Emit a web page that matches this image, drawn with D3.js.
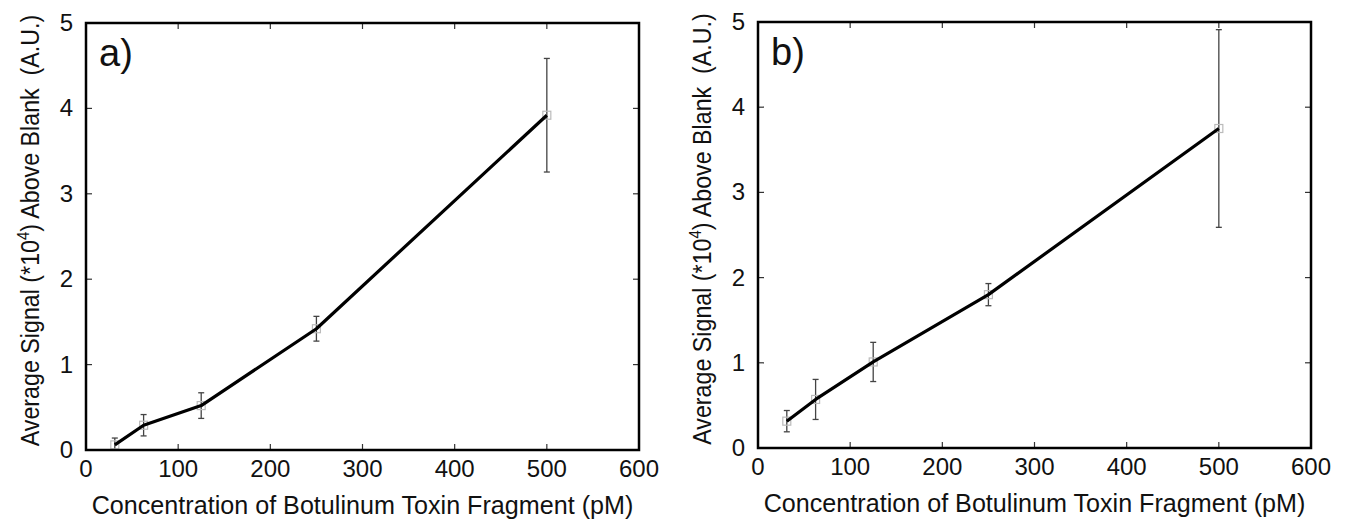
<!DOCTYPE html>
<html>
<head>
<meta charset="utf-8">
<script src="https://cdn.jsdelivr.net/npm/d3@7"></script>
<style>
body{margin:0;background:#fff}
svg{display:block}
text{font-family:"Liberation Sans",Arial,sans-serif;fill:#111;white-space:pre}
</style>
</head>
<body>
<svg id="chart" width="1350" height="525"></svg>
<script>
// concentrations (pM)
let conc=[31.25,62.5,125,250,500];
// panel a
let sigA=[0.06,0.29,0.52,1.42,3.92];
let errA=[0.08,0.125,0.15,0.145,0.665];
// panel b
let sigB=[0.315,0.57,1.01,1.80,3.75];
let errB=[0.125,0.235,0.23,0.13,1.16];

let xTicks=[0,100,200,300,400,500,600];
let yTicks=[0,1,2,3,4,5];
let xTitle="Concentration of Botulinum Toxin Fragment (pM)";

let svg=d3.select("#chart");

function drawPanel(box,sig,err,tag){
  let g=svg.append("g");
  let x=d3.scaleLinear().domain([0,600]).range([box.l,box.r]);
  let y=d3.scaleLinear().domain([0,5]).range([box.b,box.t]);

  let clipId="clip_"+tag;
  g.append("clipPath").attr("id",clipId).append("rect")
    .attr("x",box.l).attr("y",box.t).attr("width",box.r-box.l).attr("height",box.b-box.t);

  // inward ticks on all four sides
  let tk=6;
  g.selectAll(".xtb").data(xTicks.slice(1,-1)).enter().append("line")
    .attr("x1",d=>x(d)).attr("x2",d=>x(d)).attr("y1",box.b).attr("y2",box.b-tk)
    .attr("stroke","#333").attr("stroke-width",1.2);
  g.selectAll(".xtt").data(xTicks.slice(1,-1)).enter().append("line")
    .attr("x1",d=>x(d)).attr("x2",d=>x(d)).attr("y1",box.t).attr("y2",box.t+tk)
    .attr("stroke","#333").attr("stroke-width",1.2);
  g.selectAll(".ytl").data(yTicks.slice(1,-1)).enter().append("line")
    .attr("y1",d=>y(d)).attr("y2",d=>y(d)).attr("x1",box.l).attr("x2",box.l+tk)
    .attr("stroke","#333").attr("stroke-width",1.2);
  g.selectAll(".ytr").data(yTicks.slice(1,-1)).enter().append("line")
    .attr("y1",d=>y(d)).attr("y2",d=>y(d)).attr("x1",box.r).attr("x2",box.r-tk)
    .attr("stroke","#333").attr("stroke-width",1.2);

  // tick labels
  g.selectAll(".xl").data(xTicks).enter().append("text")
    .attr("x",d=>x(d)).attr("y",box.b+27).attr("text-anchor","middle")
    .style("font-size","24px").text(d=>d);
  g.selectAll(".yl").data(yTicks).enter().append("text")
    .attr("x",box.l-13).attr("y",d=>y(d)+8).attr("text-anchor","end")
    .style("font-size","24px").text(d=>d);

  let pts=conc.map((c,i)=>({c:c,v:sig[i],e:err[i]}));
  let pg=g.append("g").attr("clip-path","url(#"+clipId+")");

  // error bars
  pts.forEach(p=>{
    let eb=pg.append("g").attr("stroke","#444").attr("stroke-width",1.3);
    eb.append("line").attr("x1",x(p.c)).attr("x2",x(p.c)).attr("y1",y(p.v-p.e)).attr("y2",y(p.v+p.e));
    eb.append("line").attr("x1",x(p.c)-3).attr("x2",x(p.c)+3).attr("y1",y(p.v-p.e)).attr("y2",y(p.v-p.e));
    eb.append("line").attr("x1",x(p.c)-3).attr("x2",x(p.c)+3).attr("y1",y(p.v+p.e)).attr("y2",y(p.v+p.e));
  });

  // open square markers
  pg.selectAll(".mk").data(pts).enter().append("rect")
    .attr("x",d=>x(d.c)-4).attr("y",d=>y(d.v)-4).attr("width",8).attr("height",8)
    .attr("fill","none").attr("stroke","#bbb").attr("stroke-width",1.2);

  // connecting line
  pg.append("path").datum(pts)
    .attr("d",d3.line().x(d=>x(d.c)).y(d=>y(d.v)))
    .attr("fill","none").attr("stroke","#000").attr("stroke-width",3.2).attr("stroke-linejoin","round");

  // frame
  g.append("rect").attr("x",box.l).attr("y",box.t).attr("width",box.r-box.l).attr("height",box.b-box.t)
    .attr("fill","none").attr("stroke","#000").attr("stroke-width",2.5);

  // panel tag
  g.append("text").attr("x",box.l+13).attr("y",box.t+43).style("font-size","38px").text(tag+")");

  // axis titles, squeezed horizontally to the width seen in the figure
  let xt=g.append("text").attr("text-anchor","middle").style("font-size","25px").text(xTitle);
  let sx=542/xt.node().getComputedTextLength();
  xt.attr("transform","translate("+((box.l+box.r)/2)+","+(box.b+64)+") scale("+sx+",1)");

  let yt=g.append("text").attr("text-anchor","middle").style("font-size","25px");
  yt.append("tspan").text("Average Signal (*10");
  yt.append("tspan").attr("dy",-10).style("font-size","16px").text("4");
  yt.append("tspan").attr("dy",10).text(") Above Blank  (A.U.)");
  let sy=432/yt.node().getComputedTextLength();
  yt.attr("transform","translate("+(box.l-47)+","+((box.t+box.b)/2-6)+") rotate(-90) scale("+sy+",1)");
}

drawPanel({l:86,t:23,r:639,b:450},sigA,errA,"a");
drawPanel({l:758,t:22,r:1311,b:448},sigB,errB,"b");
</script>
</body>
</html>
